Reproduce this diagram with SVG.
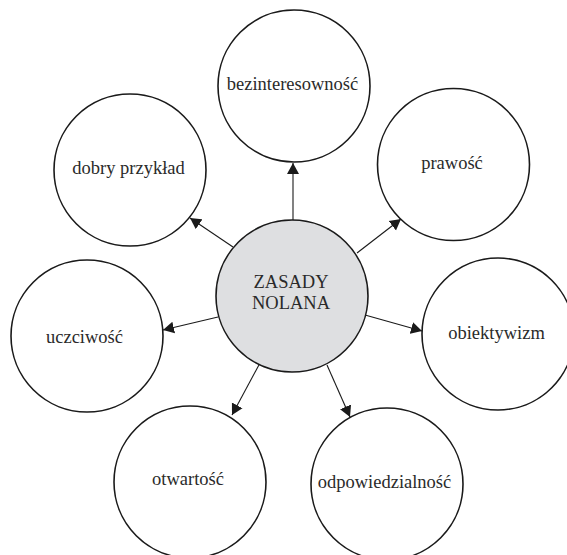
<svg xmlns="http://www.w3.org/2000/svg" width="567" height="555" viewBox="0 0 567 555">
<defs>
<style>
.node circle{fill:#fff;stroke:#1a1a1a;stroke-width:1.6}
#center circle{fill:#dedfe1}
.node text{font-family:"Liberation Serif","Times New Roman",serif;font-size:18.5px;fill:#2a2a2a;text-anchor:middle}
.conn line{stroke:#1a1a1a;stroke-width:1.1;marker-end:url(#arr)}
</style>
<marker id="arr" markerUnits="userSpaceOnUse" markerWidth="12" markerHeight="13" refX="11" refY="6.5" orient="auto" viewBox="0 0 12 13">
<path d="M0,0.5 L11,6.5 L0,12.5 z" fill="#1a1a1a"/>
</marker>
</defs>
<rect width="567" height="555" fill="#fff"/>
<g class="conn">
<line x1="293" y1="220" x2="293" y2="163"/>
<line x1="357" y1="253" x2="401" y2="219"/>
<line x1="233" y1="247" x2="190" y2="218"/>
<line x1="218" y1="317" x2="163" y2="330"/>
<line x1="365" y1="315" x2="422" y2="331"/>
<line x1="260" y1="363" x2="232" y2="415"/>
<line x1="327" y1="365" x2="350" y2="417"/>
</g>
<g id="center" class="node"><circle cx="292" cy="296" r="76"/><text x="291" y="288">ZASADY</text><text x="291" y="309">NOLANA</text></g>
<g id="bezinteresownosc" class="node"><circle cx="294" cy="86" r="76"/><text x="292.5" y="90">bezinteresowność</text></g>
<g id="prawosc" class="node"><circle cx="453.5" cy="164.5" r="76"/><text x="452" y="169">prawość</text></g>
<g id="dobry" class="node"><circle cx="130" cy="170" r="76"/><text x="128.5" y="173.5">dobry przykład</text></g>
<g id="uczciwosc" class="node"><circle cx="87" cy="336" r="76"/><text x="84.5" y="342.5">uczciwość</text></g>
<g id="obiektywizm" class="node"><circle cx="498" cy="334" r="76"/><text x="496.5" y="338.5">obiektywizm</text></g>
<g id="otwartosc" class="node"><circle cx="190" cy="482" r="76"/><text x="188" y="485">otwartość</text></g>
<g id="odpowiedzialnosc" class="node"><circle cx="387" cy="484" r="76"/><text x="384.5" y="487.5">odpowiedzialność</text></g>
</svg>
